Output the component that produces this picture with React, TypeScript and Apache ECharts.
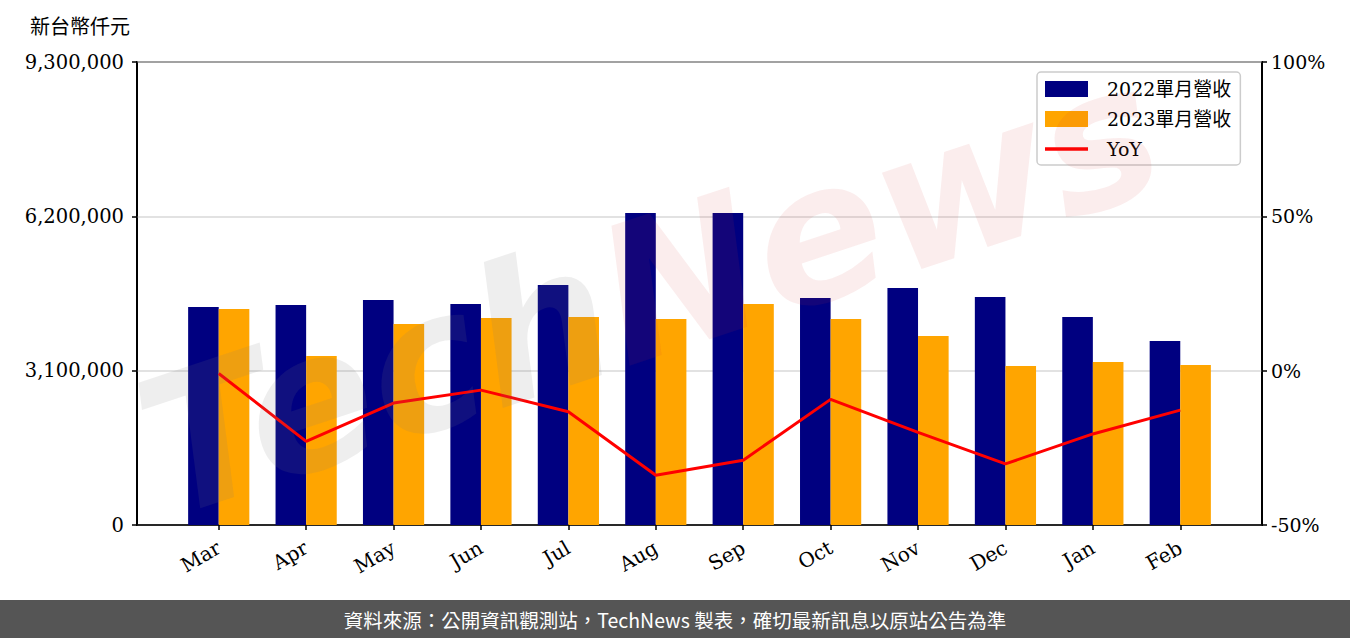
import React, { useEffect, useRef } from "react";
import * as echarts from "echarts";

const months = ["Mar", "Apr", "May", "Jun", "Jul", "Aug", "Sep", "Oct", "Nov", "Dec", "Jan", "Feb"];
const rev2022 = [4378800, 4419000, 4519400, 4439100, 4820700, 6267000, 6267000, 4559600, 4760500, 4579700, 4178000, 3695900];
const rev2023 = [4338700, 3394600, 4037400, 4157900, 4178000, 4137800, 4439100, 4137800, 3796300, 3193700, 3274100, 3213800];
const yoy = [-0.9, -22.9, -10.5, -6.3, -13.3, -33.9, -29.0, -9.3, -20.0, -30.2, -20.5, -12.8];
const leftTicks = [0, 3100000, 6200000, 9300000];
const rightTicks = [-50, 0, 50, 100];
const unitLabel = "新台幣仟元";
const footer = "資料來源：公開資訊觀測站，TechNews 製表，確切最新訊息以原站公告為準";
const seriesNames = ["2022單月營收", "2023單月營收", "YoY"];

const SERIF = "'DejaVu Serif', 'Noto Sans CJK TC', serif";

export default function App() {
  const ref = useRef<HTMLDivElement>(null);
  useEffect(() => {
    document.body.style.margin = "0";
    const chart = echarts.init(ref.current!, null, { renderer: "svg" });
    const idx = months.map((_, i) => i);
    chart.setOption({
      animation: false,
      backgroundColor: "#ffffff",
      grid: {
        left: 137,
        right: 88,
        top: 62,
        bottom: 113,
        show: true,
        borderColor: "#000",
        borderWidth: 2,
        containLabel: false,
      },
      legend: {
        left: 1037,
        top: 72,
        orient: "vertical",
        padding: [7, 9, 6, 8],
        itemWidth: 43,
        itemHeight: 16,
        itemGap: 10,
        borderColor: "#cccccc",
        borderWidth: 1.5,
        borderRadius: 4,
        backgroundColor: "rgba(255,255,255,0.8)",
        textStyle: { fontFamily: SERIF, fontSize: 19, color: "#000", padding: [0, 0, 0, 14], lineHeight: 20 },
        data: [
          { name: seriesNames[0], icon: "rect" },
          { name: seriesNames[1], icon: "rect" },
          { name: seriesNames[2], icon: "path://M0,0 L100,0 L100,8 L0,8 Z", itemStyle: { color: "#ff0000" } },
        ],
      },
      xAxis: {
        type: "value",
        min: -0.935,
        max: 11.935,
        splitLine: { show: false },
        axisLine: { show: true, onZero: false, lineStyle: { color: "#000", width: 1.5 } },
        axisTick: { show: true, length: 5, lineStyle: { color: "#000", width: 1.5 }, customValues: idx },
        axisLabel: {
          customValues: idx,
          rotate: 30,
          margin: 21,
          fontFamily: SERIF,
          fontSize: 20,
          color: "#000",
          formatter: (v: number) => months[Math.round(v)] ?? "",
        },
      },
      yAxis: [
        {
          type: "value",
          min: leftTicks[0],
          max: leftTicks[leftTicks.length - 1],
          interval: 3100000,
          position: "left",
          axisLine: { show: true, onZero: false, lineStyle: { color: "#000", width: 1.5 } },
          axisTick: { show: true, length: 5, lineStyle: { color: "#000", width: 1.5 } },
          axisLabel: {
            margin: 13,
            fontFamily: SERIF,
            fontSize: 19.5,
            color: "#000",
            formatter: (v: number) => v.toLocaleString("en-US"),
          },
          splitLine: { show: true, lineStyle: { color: "#d9d9d9", width: 1.5 } },
        },
        {
          type: "value",
          min: rightTicks[0],
          max: rightTicks[rightTicks.length - 1],
          interval: 50,
          position: "right",
          axisLine: { show: true, onZero: false, lineStyle: { color: "#000", width: 1.5 } },
          axisTick: { show: true, length: 5, lineStyle: { color: "#000", width: 1.5 } },
          axisLabel: {
            margin: 9,
            fontFamily: SERIF,
            fontSize: 19,
            color: "#000",
            formatter: "{value}%",
          },
          splitLine: { show: false },
        },
      ],
      series: [
        {
          name: seriesNames[0],
          type: "bar",
          yAxisIndex: 0,
          barWidth: 30.6,
          barGap: "0%",
          itemStyle: { color: "#000080" },
          data: rev2022.map((v, i) => [i, v]),
        },
        {
          name: seriesNames[1],
          type: "bar",
          yAxisIndex: 0,
          barWidth: 30.6,
          barGap: "0%",
          itemStyle: { color: "#FFA500" },
          data: rev2023.map((v, i) => [i, v]),
        },
        {
          name: seriesNames[2],
          type: "line",
          yAxisIndex: 1,
          showSymbol: false,
          symbol: "none",
          lineStyle: { color: "#ff0000", width: 3 },
          itemStyle: { color: "#ff0000" },
          data: yoy.map((v, i) => [i, v]),
          z: 5,
        },
      ],
      graphic: [
        {
          type: "text",
          left: 30,
          top: 15,
          style: { text: unitLabel, fontFamily: "'Noto Sans CJK TC', serif", fontSize: 20, fill: "#000" },
        },
        {
          type: "text",
          x: 650,
          y: 290,
          rotation: 0.32,
          z: 100,
          silent: true,
          style: {
            text: "{a|Tech}{b|News}",
            align: "center",
            verticalAlign: "middle",
            rich: {
              a: { fontSize: 190, fontStyle: "italic", fontWeight: "bold", fontFamily: "'DejaVu Sans', sans-serif", fill: "rgba(120,120,120,0.13)" },
              b: { fontSize: 190, fontStyle: "italic", fontWeight: "bold", fontFamily: "'DejaVu Sans', sans-serif", fill: "rgba(210,60,60,0.09)" },
            },
          },
        },
        {
          type: "rect",
          left: 0,
          top: 600,
          shape: { width: 1350, height: 38 },
          style: { fill: "#555555" },
        },
        {
          type: "text",
          x: 675,
          y: 619,
          style: {
            text: footer,
            align: "center",
            verticalAlign: "middle",
            fontFamily: "'Noto Sans CJK TC', sans-serif",
            fontSize: 19.5,
            fill: "#ffffff",
          },
        },
      ],
    });
    return () => chart.dispose();
  }, []);
  return <div ref={ref} style={{ width: 1350, height: 638 }} />;
}
